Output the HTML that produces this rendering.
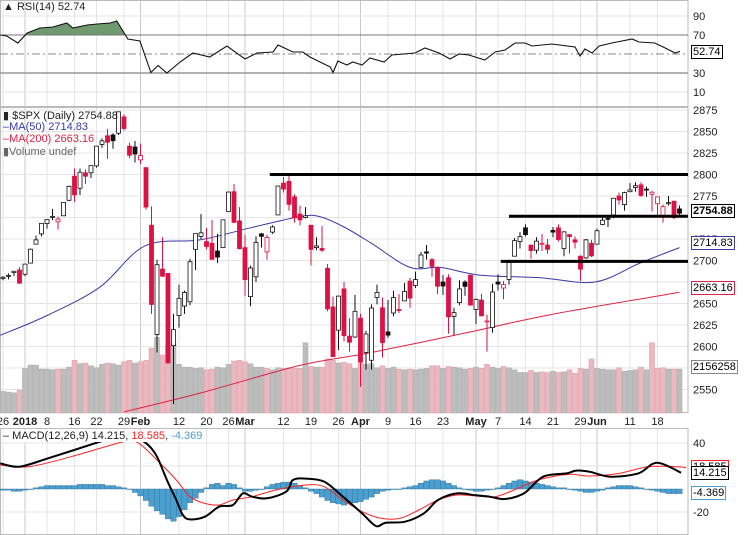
<!DOCTYPE html>
<html><head><meta charset="utf-8"><style>
body{margin:0;background:#fff;}
svg{display:block;font-family:"Liberation Sans",sans-serif;}
</style></head><body>
<svg id="chart" width="744" height="535" viewBox="0 0 744 535" xmlns="http://www.w3.org/2000/svg">
<rect x="0" y="0" width="744" height="535" fill="#fff"/>
<g id="grid"></g>
<g id="rsi"></g>
<g id="vol"></g>
<g id="price"></g>
<g id="macd"></g>
<g id="labels"></g>
</svg>
<script>
const closes=[2680.5,2682.6,2687.5,2673.6,
2695.8,2713.1,2724.0,2743.2,2747.7,2751.3,2748.2,2767.6,2786.2,2776.4,2802.6,2798.0,2810.3,2833.0,2839.1,2837.5,2839.3,2872.9,2853.5,2822.4,2823.8,
2822.0,2762.1,2648.9,2695.1,2681.7,2581.0,2619.6,2656.0,2662.9,2698.6,2731.2,2732.2,2716.3,2701.3,2704.0,2747.3,2779.6,2744.3,2713.8,
2677.7,2691.3,2720.9,2728.1,2726.8,2739.0,2786.6,2783.0,2765.3,2749.5,2747.3,2752.0,2712.9,2716.9,2711.9,2643.7,2588.3,2658.6,2612.6,2605.0,2640.9,
2581.9,2614.5,2644.7,2662.8,2604.5,2613.2,2656.9,2642.2,2664.0,2656.3,2677.8,2706.4,2708.6,2693.1,2670.1,2670.3,2634.6,2639.4,2666.9,2669.9,2648.1,
2654.8,2635.7,2629.7,2663.4,2672.6,2671.9,2697.8,2723.1,2727.7,2730.1,2711.5,2722.5,2720.1,2713.0,2733.0,2724.4,2733.3,2727.8,2721.3,2689.9,2724.0,2705.3,
2734.6,2746.9,2748.8,2772.4,2770.4,2779.0,2782.0,2786.9,2775.6,2782.5,2779.4,2773.9,2762.6,2767.3,2749.8,2754.9];
const opens=[2679,2682,2686,2689,
2684,2697,2719,2731,2743,2751,2745,2752,2770,2798,2784,2802,2802,2810,2835,2845,2846,2848,2867,2833,2832,
2817,2808,2741,2614,2690,2685,2601,2636,2647,2652,2713,2728,2722,2720,2711,2715,2757,2780,2746,
2715,2658,2681,2731,2710,2733,2753,2790,2792,2774,2754,2750,2741,2715,2714,2691,2646,2619,2667,2612,2611,
2633,2593,2584,2657,2645,2617,2639,2643,2653,2676,2671,2692,2710,2701,2692,2675,2680,2635,2651,2675,2683,
2643,2654,2629,2622,2675,2668,2678,2705,2722,2738,2718,2712,2719,2718,2735,2738,2714,2730,2724,2705,2703,2720,
2719,2742,2749,2753,2775,2765,2780,2785,2788,2783,2777,2766,2752,2766,2769,2760];
const highs=[2682,2685,2688,2692,
2696,2714,2729,2743,2748,2760,2751,2767,2787,2807,2807,2806,2810,2833,2842,2853,2848,2873,2870,2837,2839,
2836,2808,2763,2701,2727,2685,2638,2672,2665,2702,2731,2754,2738,2747,2731,2747,2780,2789,2762,
2730,2694,2728,2732,2730,2741,2787,2797,2801,2777,2764,2762,2741,2727,2740,2696,2658,2659,2675,2633,2660,
2638,2618,2649,2672,2657,2654,2665,2661,2674,2680,2687,2710,2718,2703,2693,2683,2684,2645,2677,2677,2683,
2656,2661,2637,2673,2684,2676,2701,2726,2733,2742,2718,2727,2731,2725,2739,2742,2734,2731,2728,2706,2725,2724,
2737,2750,2752,2772,2779,2780,2790,2791,2791,2786,2781,2774,2765,2775,2769,2764];
const lows=[2677,2678,2682,2673,
2682,2697,2719,2728,2737,2747,2736,2752,2769,2768,2776,2789,2796,2808,2831,2818,2830,2846,2851,2819,2814,
2812,2759,2638,2593,2681,2580,2533,2622,2638,2648,2689,2725,2713,2701,2697,2715,2757,2744,2713,
2659,2647,2675,2715,2701,2731,2753,2779,2758,2744,2741,2749,2694,2712,2710,2641,2588,2596,2606,2594,2610,
2553,2573,2573,2649,2587,2610,2635,2639,2653,2645,2668,2691,2701,2681,2661,2660,2615,2613,2648,2659,2648,
2626,2635,2594,2616,2665,2655,2672,2705,2714,2728,2702,2708,2711,2708,2727,2722,2705,2708,2714,2676,2702,2704,
2719,2741,2739,2749,2765,2758,2780,2780,2774,2774,2757,2753,2744,2764,2748,2752];
const volumes=[1600,1550,1500,1700,
3300,3550,3550,3250,3250,3200,3250,3250,3400,3900,3650,3700,3500,3350,3600,3700,3650,3550,3800,3900,3700,
3800,3900,4800,5600,4300,5000,5200,3600,3400,3400,3300,3350,3200,3250,3400,3350,3600,3850,3900,
3800,3650,3400,3400,3300,3200,3350,3300,3350,3300,3300,5200,3450,3400,3400,4000,3900,3700,3750,3650,3300,
3700,3600,3650,3350,3500,3300,3400,3250,3200,3250,3200,3250,3300,3500,3500,3300,3450,3400,3350,3250,3300,
3400,3300,3600,3400,3300,3450,3350,3200,3000,3000,3150,3000,3050,3000,3100,3000,3050,3200,2950,3300,3250,4000,
3300,3250,3200,3200,3350,3100,3150,3200,3400,3200,5200,3300,3350,3250,3250,3250];
const ma50Days=[-0.5,8,17.6,25.8,35.8,45,54,57.6,62,67,74,79.5,86.7,97.6,107.6,115.8,123];
const ma50Vals=[2613,2636,2669,2717,2724,2738,2751,2751,2739,2720,2692,2692,2683,2680,2675,2697,2715];
const ma200Days=[22,36,54,67,85,99.5,123];
const ma200Vals=[2524,2546,2578,2593,2617,2637,2663];
const rsiDays=[-0.5,0.7,2.7,4.4,6.7,9.1,11.6,12.7,15.3,17.1,19.5,20.7,22.7,24.9,26.9,28.2,29.8,32.2,34.5,37.6,40.7,44,46.2,49.1,50,52.7,54.5,55.8,59.5,60,60.9,62.5,63.6,65.3,66.7,
69.3,70.7,74.9,76.7,79.3,81.3,82.9,84.7,87.6,89.5,91.3,93.1,94.9,96.2,99.8,104,104.9,105.8,107.1,108.4,110.7,114.4,115.6,118.5,120.4,122.2,123.1];
const rsiVals=[70,68.9,61.6,72.1,77.4,78.4,82.6,77.4,80.5,81.6,82.6,84.7,65.8,63.7,30.5,37.9,30,41.6,51,46.8,58.4,44.7,51,52.1,59.5,52.1,52.1,46.8,36.3,30.5,42.6,38.4,41.6,38.4,45.8,
41.6,48.9,51,56.3,51,44.7,50,48.9,43.7,52.1,54.2,61.6,61.6,58.4,60.5,57.4,47.9,55.3,51,58.4,61.6,65.8,62.6,61.6,56.3,51,52.7];
const macdDays=[-0.5,3,8.2,16.7,19.5,22.2,24.5,26.4,28,29.8,31.5,32.7,34,36.7,39.3,41.8,43.6,45.3,48,51.5,52.7,55,58.4,61.8,65.3,67.8,69.6,73.1,76.5,79.1,82.5,86,88.5,91.3,94.7,98.2,102.5,104.2,106.7,110.4,115.5,118.9,123.3];
const macdVals=[22.3,19.4,26.7,39.7,44,47,44,38.3,28.1,7.8,-9.6,-22.6,-26.4,-24.1,-15.4,-13.9,-3.8,-6.7,-8.1,-2.3,7.8,9,6.4,-6.7,-21.2,-32.2,-29.3,-28.4,-21.2,-9.6,-3.8,-5.5,-6.7,-8.7,-3.8,10.7,13.6,16,15,10.7,13.6,22.9,14.2];
const signalDays=[-0.5,4.7,12.4,22,24.5,28,31.5,34,36.7,39.3,41.8,45.3,49.6,55,58.4,61.8,65.3,68.7,72.2,75.6,79.1,82.5,86,89.5,92.9,96.4,99.8,103.3,106.7,112,117.3,122.4,124.2];
const signalVals=[20.9,19.4,28.1,41.2,40.3,25.2,7.8,-6.7,-12.5,-13.9,-9.6,-6.7,-0.9,3.5,2,-9.6,-19.7,-25.5,-25.5,-18.3,-9.6,-5.2,-6.1,-6.7,-0.9,6.4,10.7,12.8,11.3,13.6,19.4,19.4,18.6];
const histVals=[-1,-1,-2,-2,-1,
0,1,2,3,3,3,3,3,3,4,4,4,4,4,3,3,2,
1,0,-3,-6,-10,
-15,-19,-22,-26,-28,
-24,-18,-12,-8,-3,
1,4,5,3,
5,4,1,-2,-2,
-1,0,2,4,5,
6,6,5,3,1,
-2,-4,-7,-10,-12,
-13,-14,-13,-12,-11,
-9,-7,-4,-2,-1,
0,0,1,2,3,
5,7,8,8,7,
5,3,1,0,-1,
-2,-2,-1,0,1,
3,5,7,8,7,
6,5,4,3,2,
1,1,0,-1,-2,
-3,-3,-2,-1,1,
2,3,3,3,2,
1,0,-1,-2,-3,
-4,-4,-4];
const priceTicks=[2875,2850,2825,2800,2775,2725,2700,2650,2625,2600,2550];
const rsiTicks=[90,70,30,10];
const macdTicks=[40,-20];
const dateIdx=[0,4,8,13,17,22,25,32,37,41,44,51,56,61,65,70,75,80,86,90,95,100,105,108,114,119];
const dateLbl=["26","2018","8","16","22","29","Feb","12","20","26","Mar","12","19","26","Apr","9","16","23","May","7","14","21","29","Jun","11","18"];
const monthIdx=[4,25,44,65,86,108];
const supportLevels=[2800,2751.5,2699];
const supportStart=[48.5,92,90.5];

const NS="http://www.w3.org/2000/svg";
const R=688;
const X=i=>3+i*5.5;
const PY=p=>174.5-(p-2800)*0.86;
const RY=v=>54-(v-50)*0.95;
const MY=v=>489-v*1.15;
const VY=v=>413-v*0.0135;
function mk(parent,tag,attrs,name,text){const e=document.createElementNS(NS,tag);for(const k in attrs)e.setAttribute(k,attrs[k]);


if(text!==undefined)e.textContent=text;document.getElementById(parent).appendChild(e);return e;}
function path(days,vals,f){return days.map((d,i)=>(i?'L':'M')+X(d).toFixed(1)+','+f(vals[i]).toFixed(1)).join('');}
function smooth(days,vals,f){const p=days.map((d,i)=>[X(d),f(vals[i])]);let s='M'+p[0][0].toFixed(1)+','+p[0][1].toFixed(1);
 for(let i=0;i<p.length-1;i++){const p0=p[Math.max(0,i-1)],p1=p[i],p2=p[i+1],p3=p[Math.min(p.length-1,i+2)];
  const c1=[p1[0]+(p2[0]-p0[0])/6,p1[1]+(p2[1]-p0[1])/6],c2=[p2[0]-(p3[0]-p1[0])/6,p2[1]-(p3[1]-p1[1])/6];
  s+='C'+c1.map(v=>v.toFixed(1)).join(',')+' '+c2.map(v=>v.toFixed(1)).join(',')+' '+p2[0].toFixed(1)+','+p2[1].toFixed(1);}
 return s;}

const panels=[[0,107],[107,413],[428,535]];
panels.forEach((p,k)=>{
 dateIdx.forEach((d,i)=>{const isM=monthIdx.includes(d);
  mk('grid','line',{x1:X(d),x2:X(d),y1:p[0],y2:p[1],stroke:isM?'#c8c8c8':'#e4e4e4','stroke-width':1},'v-grid');});
});
[2875,2850,2825,2800,2775,2750,2725,2700,2675,2650,2625,2600,2575,2550].forEach(t=>mk('grid','line',{x1:0,x2:R,y1:PY(t),y2:PY(t),stroke:'#e4e4e4'},'price-grid'));
[90,10].forEach(t=>mk('grid','line',{x1:0,x2:R,y1:RY(t),y2:RY(t),stroke:'#e4e4e4'},'rsi-grid'));
[40,20,-20].forEach(t=>mk('grid','line',{x1:0,x2:R,y1:MY(t),y2:MY(t),stroke:'#e4e4e4'},'macd-grid'));
panels.forEach(p=>mk('grid','rect',{x:0.5,y:p[0]+0.5,width:R-0.5,height:p[1]-p[0]-1,fill:'none',stroke:'#bbb'},'panel-border'));

const rp=path(rsiDays,rsiVals,RY);
mk('rsi','clipPath',{id:'above70'},'rsi-clip');
mk('above70','rect',{x:0,y:0,width:R,height:RY(70)},'rsi-clip-rect');
mk('rsi','path',{d:rp+'L'+X(rsiDays[rsiDays.length-1])+','+RY(70)+'L'+X(rsiDays[0])+','+RY(70)+'Z',fill:'#6f9a6f','clip-path':'url(#above70)'},'rsi-overbought-fill');
mk('rsi','line',{x1:0,x2:R,y1:RY(70),y2:RY(70),stroke:'#777'},'rsi-70-line');
mk('rsi','line',{x1:0,x2:R,y1:RY(30),y2:RY(30),stroke:'#999','stroke-width':1.5},'rsi-30-line');
mk('rsi','line',{x1:0,x2:R,y1:RY(50),y2:RY(50),stroke:'#888','stroke-dasharray':'8,3,2,3'},'rsi-50-line');
mk('rsi','path',{d:rp,fill:'none',stroke:'#111','stroke-width':1.1},'rsi-line');

volumes.forEach((v,i)=>{const dn=i>0&&closes[i]<closes[i-1];
 mk('vol','rect',{x:X(i)-2.5,y:VY(v),width:5,height:413-VY(v),fill:dn?'#eab8bf':'#bdbdbd',stroke:dn?'#e09aa4':'#a8a8a8','stroke-width':0.5},'volume-bar');});

mk('price','path',{d:smooth(ma200Days,ma200Vals,PY),fill:'none',stroke:'#dd2244','stroke-width':1},'ma200-line');
mk('price','path',{d:smooth(ma50Days,ma50Vals,PY),fill:'none',stroke:'#3a3aa8','stroke-width':1},'ma50-line');

closes.forEach((c,i)=>{const o=opens[i];const dn=i>0&&c<closes[i-1];const col=dn?'#dd1144':'#111';
 mk('price','line',{x1:X(i),x2:X(i),y1:PY(highs[i]),y2:PY(lows[i]),stroke:col,'stroke-width':1},'candle-wick');
 const top=PY(Math.max(o,c)),h=Math.max(1,Math.abs(PY(o)-PY(c)));
 mk('price','rect',{x:X(i)-2,y:top,width:4,height:h,fill:c<o?col:'#fff',stroke:col,'stroke-width':0.8},'candle-body');});

supportLevels.forEach((l,k)=>mk('price','line',{x1:X(supportStart[k]),x2:R,y1:PY(l),y2:PY(l),stroke:'#000','stroke-width':3},'support-line'));

histVals.forEach((h,i)=>{const y0=MY(0),y1=MY(h);
 mk('macd','rect',{x:X(i)-2.75,y:Math.min(y0,y1),width:5.5,height:Math.max(0.5,Math.abs(y1-y0)),fill:'#4a9fcf',stroke:'#2f6f95','stroke-width':0.4},'macd-histogram-bar');});
mk('macd','clipPath',{id:'mclip'},'macd-clip');
mk('mclip','rect',{x:0,y:428,width:R,height:107},'macd-clip-rect');
mk('macd','path',{d:smooth(signalDays,signalVals,MY),fill:'none',stroke:'#ff2222','stroke-width':1,'clip-path':'url(#mclip)'},'macd-signal-line');
mk('macd','path',{d:smooth(macdDays,macdVals,MY),fill:'none',stroke:'#000','stroke-width':2,'clip-path':'url(#mclip)'},'macd-line');

const fs={'font-size':11,fill:'#222'};
priceTicks.forEach(t=>mk('labels','text',Object.assign({x:693,y:PY(t)+4},fs),'price-tick',String(t)));
rsiTicks.forEach(t=>mk('labels','text',Object.assign({x:693,y:RY(t)+4},fs),'rsi-tick',String(t)));
macdTicks.forEach(t=>mk('labels','text',Object.assign({x:693,y:MY(t)+4},fs),'macd-tick',String(t)));
dateIdx.forEach((d,i)=>{const isM=monthIdx.includes(d);
 mk('labels','text',{x:X(d)-(isM?0:0),y:425,'font-size':11,'font-weight':isM?'bold':'normal',fill:'#222','text-anchor':'middle'},'date-label',dateLbl[i]);});
</script>
<div style="position:absolute;left:0;top:0;width:744px;height:535px;pointer-events:none;font-family:'Liberation Sans',sans-serif;font-size:11px;">
 <div style="position:absolute;left:3px;top:1px;color:#222;">▲ RSI(14) 52.74</div>
 <div style="position:absolute;left:3px;top:109px;color:#222;">▮ $SPX (Daily) 2754.88</div>
 <div style="position:absolute;left:3px;top:121px;color:#3a3aa8;">–MA(50) 2714.83</div>
 <div style="position:absolute;left:3px;top:133px;color:#dd2244;">–MA(200) 2663.16</div>
 <div style="position:absolute;left:3px;top:145px;color:#666;">▮Volume undef</div>
 <div style="position:absolute;left:3px;top:430px;color:#222;background:#fff;">– MACD(12,26,9) 14.215, <span style="color:#ff2222">18.585</span>, <span style="color:#4a9fcf">-4.369</span></div>
 <div style="position:absolute;left:691px;top:204px;border:1px solid #000;background:#fff;font-weight:bold;padding:0 1px;">2754.88</div>
 <div style="position:absolute;left:691px;top:236px;border:1px solid #3a3aa8;background:#fff;padding:0 1px;">2714.83</div>
 <div style="position:absolute;left:691px;top:281px;border:1px solid #dd2244;background:#fff;padding:0 1px;">2663.16</div>
 <div style="position:absolute;left:691px;top:360px;border:1px solid #888;background:#fff;padding:0 1px;">2156258</div>
 <div style="position:absolute;left:691px;top:45px;border:1px solid #000;background:#fff;padding:0 1px;">52.74</div>
 <div style="position:absolute;left:691px;top:460px;border:1px solid #ff2222;background:#fff;padding:0 1px;">18.585</div>
 <div style="position:absolute;left:691px;top:466px;border:1px solid #000;background:#fff;padding:0 1px;">14.215</div>
 <div style="position:absolute;left:691px;top:486px;border:1px solid #4a9fcf;background:#fff;padding:0 1px;">-4.369</div>
</div>
</body></html>
